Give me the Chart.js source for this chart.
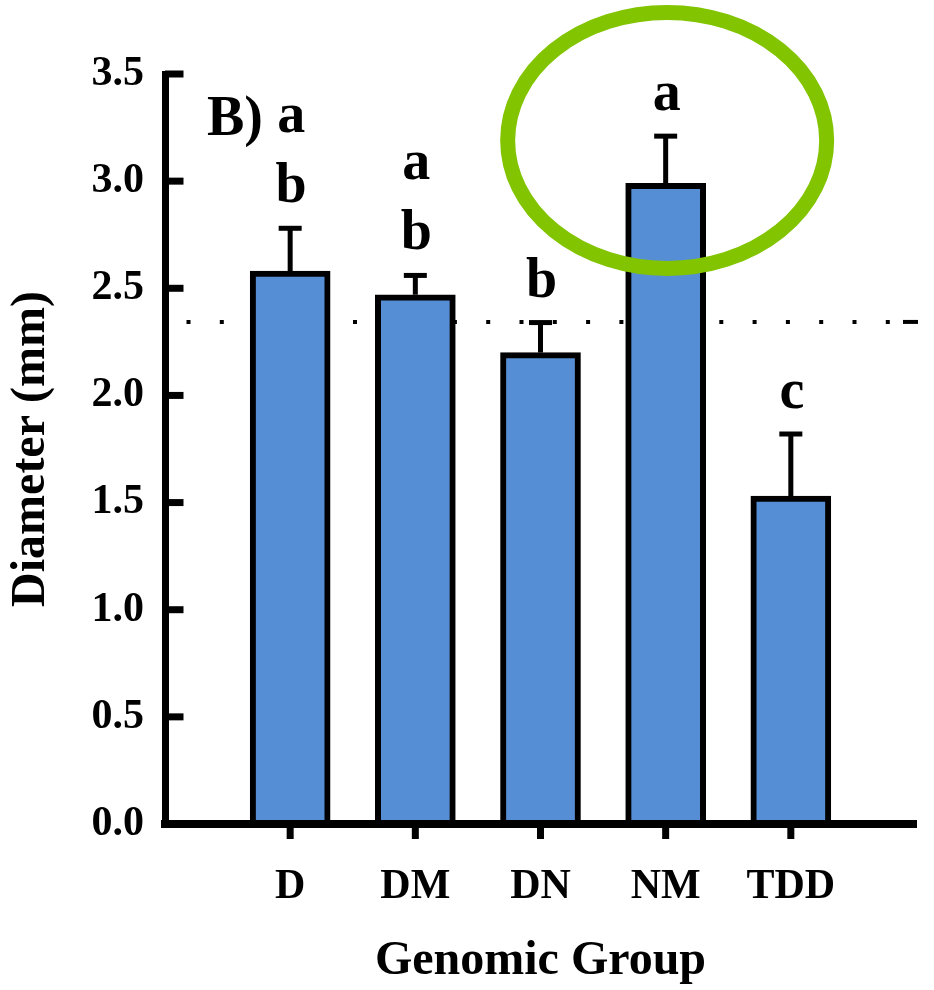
<!DOCTYPE html>
<html>
<head>
<meta charset="utf-8">
<script src="https://cdn.jsdelivr.net/npm/chart.js@4.4.1/dist/chart.umd.min.js"></script>
<style>
  html, body { margin: 0; padding: 0; background: #ffffff; }
  #wrap { width: 934px; height: 990px; }
</style>
</head>
<body>
<div id="wrap"><canvas id="c" width="934" height="990"></canvas></div>
<script>
// ---- data ----
const categories = ['D', 'DM', 'DN', 'NM', 'TDD'];
const means      = [2.58, 2.47, 2.20, 2.99, 1.53];
const errorTops  = [2.78, 2.56, 2.34, 3.21, 1.82];
const sigLetters = [['a', 'b'], ['a', 'b'], ['b'], ['a'], ['c']];
const yTicks     = [0, 0.5, 1.0, 1.5, 2.0, 2.5, 3.0, 3.5];
const referenceLine = 2.343;      // dotted control line
const highlightCategory = 'NM';   // circled group
const highlightValue = 3.19;      // vertical centre of the circle
const panelLabel = 'B)';
const yTitle = 'Diameter (mm)';
const xTitle = 'Genomic Group';

const SERIF = "'Liberation Serif', 'Times New Roman', serif";

// category axis padded with an empty slot on each side
const labels = ['', ...categories, ''];
const barData = [null, ...means, null];

const overlay = {
  id: 'overlay',
  beforeDatasetsDraw(chart) {
    const { ctx, chartArea: a, scales: { y } } = chart;
    const yy = y.getPixelForValue(referenceLine);
    ctx.save();
    ctx.strokeStyle = '#000';
    ctx.lineWidth = 4;
    ctx.setLineDash([4, 29.3]);
    ctx.beginPath();
    ctx.moveTo(a.left + 21.5, yy);
    ctx.lineTo(a.right - 14, yy);
    ctx.stroke();
    ctx.setLineDash([]);
    ctx.beginPath();
    ctx.moveTo(a.right - 13, yy);
    ctx.lineTo(a.right + 2, yy);
    ctx.stroke();
    ctx.restore();
  },
  afterDatasetsDraw(chart) {
    const { ctx, chartArea: a, scales: { x, y } } = chart;
    ctx.save();
    ctx.strokeStyle = '#000';
    ctx.fillStyle = '#000';

    // y ticks pointing inward
    ctx.lineWidth = 7;
    yTicks.forEach(v => {
      const py = y.getPixelForValue(v);
      ctx.beginPath();
      ctx.moveTo(a.left, py);
      ctx.lineTo(a.left + 18.5, py);
      ctx.stroke();
    });

    // x ticks below axis
    categories.forEach((c, i) => {
      const px = x.getPixelForValue(i + 1);
      ctx.beginPath();
      ctx.moveTo(px, a.bottom);
      ctx.lineTo(px, a.bottom + 15);
      ctx.stroke();
    });

    // error bars (upper only)
    categories.forEach((c, i) => {
      const px = x.getPixelForValue(i + 1);
      const pTop = y.getPixelForValue(means[i]);
      const pErr = y.getPixelForValue(errorTops[i]);
      ctx.lineWidth = 5;
      ctx.beginPath();
      ctx.moveTo(px, pTop);
      ctx.lineTo(px, pErr);
      ctx.stroke();
      ctx.beginPath();
      ctx.moveTo(px - 11.5, pErr);
      ctx.lineTo(px + 11.5, pErr);
      ctx.stroke();
    });

    // significance letters
    ctx.font = 'bold 56px ' + SERIF;
    ctx.textAlign = 'center';
    ctx.textBaseline = 'alphabetic';
    categories.forEach((c, i) => {
      const px = x.getPixelForValue(i + 1) + 1;
      const base = y.getPixelForValue(errorTops[i]) - 26;
      const letters = sigLetters[i];
      letters.slice().reverse().forEach((l, k) => {
        ctx.fillText(l, px, base - k * 70);
      });
    });

    // panel label
    ctx.textAlign = 'left';
    ctx.fillText(panelLabel, a.left + 42, a.top + 61);

    // highlight ellipse
    const hi = categories.indexOf(highlightCategory) + 1;
    const cx = x.getPixelForValue(hi) + 1.5;
    const cy = y.getPixelForValue(highlightValue);
    ctx.strokeStyle = '#82c400';
    ctx.lineWidth = 15;
    ctx.beginPath();
    ctx.ellipse(cx, cy, 159.5, 128, 0, 0, Math.PI * 2);
    ctx.stroke();
    ctx.restore();
  }
};

new Chart(document.getElementById('c'), {
  type: 'bar',
  data: {
    labels: labels,
    datasets: [{
      data: barData,
      backgroundColor: '#558ed5',
      borderColor: '#000000',
      borderWidth: 6,
      borderSkipped: 'start',
      barThickness: 80
    }]
  },
  options: {
    responsive: false,
    animation: false,
    devicePixelRatio: 1,
    layout: { padding: { top: 74, right: 18, left: 0, bottom: 0 } },
    plugins: {
      legend: { display: false },
      tooltip: { enabled: false }
    },
    scales: {
      x: {
        type: 'category',
        offset: false,
        grid: { display: false, drawTicks: false },
        border: { display: true, color: '#000', width: 8, z: 1 },
        ticks: {
          autoSkip: false,
          maxRotation: 0,
          minRotation: 0,
          padding: 38,
          color: '#000',
          font: { family: SERIF, size: 42, weight: 'bold' }
        },
        title: {
          display: true,
          text: xTitle,
          color: '#000',
          padding: { top: 0, bottom: 0 },
          font: { family: SERIF, size: 48, weight: 'bold' }
        },
        afterFit: s => { s.height = 166; s.paddingLeft = 0; s.paddingRight = 0; }
      },
      y: {
        min: 0,
        max: 3.5,
        grid: { display: false, drawTicks: false },
        border: { display: true, color: '#000', width: 7, z: 1 },
        afterBuildTicks: s => { s.ticks = yTicks.map(v => ({ value: v })); },
        ticks: {
          padding: 21,
          color: '#000',
          callback: v => Number(v).toFixed(1),
          font: { family: SERIF, size: 42, weight: 'bold' }
        },
        title: {
          display: true,
          text: yTitle,
          color: '#000',
          padding: { top: 3, bottom: 0 },
          font: { family: SERIF, size: 48, weight: 'bold' }
        },
        afterFit: s => { s.width = 165; s.paddingTop = 0; s.paddingBottom = 0; }
      }
    }
  },
  plugins: [overlay]
});
</script>
</body>
</html>
